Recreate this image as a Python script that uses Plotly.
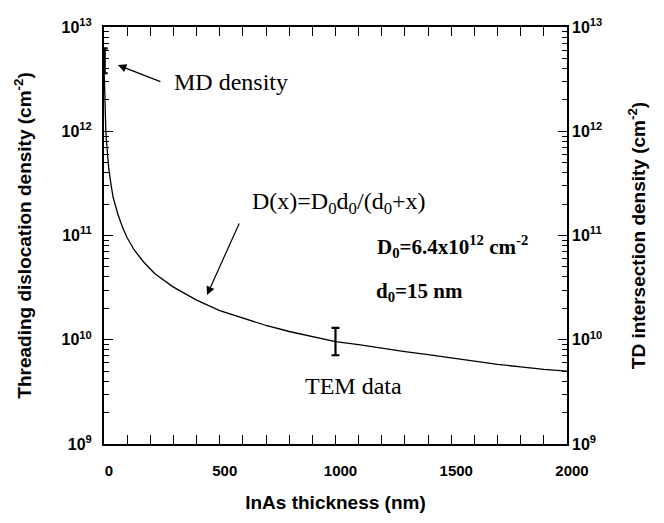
import plotly.graph_objects as go

# ---- data ----
thickness_nm = [1, 2, 4, 6, 8, 10, 15, 20, 30, 40, 60, 80, 100, 130, 170, 220, 300, 400,
                500, 600, 700, 800, 900, 1000, 1100, 1200, 1300, 1400, 1500, 1600, 1700,
                1800, 1900, 2000]
td_density = [3.6e12, 2.7e12, 1.8e12, 1.3e12, 1.0e12, 8.4e11, 5.9e11, 4.5e11, 3.1e11,
              2.3e11, 1.6e11, 1.2e11, 9.5e10, 7.3e10, 5.6e10, 4.3e10, 3.2e10, 2.4e10,
              1.9e10, 1.6e10, 1.37e10, 1.2e10, 1.07e10, 9.6e9, 9.0e9, 8.3e9, 7.7e9,
              7.2e9, 6.7e9, 6.3e9, 5.8e9, 5.5e9, 5.2e9, 5.0e9]

md_x = [3]
md_center = [4.75e12]
md_high = [6.25e12]
md_low = [3.6e12]

tem_x = [1000]
tem_center = [9.6e9]
tem_high = [1.3e10]
tem_low = [7.1e9]

x_ticks = [0, 500, 1000, 1500, 2000]
y_decades = [9, 10, 11, 12, 13]
y_tick_labels = ["10<sup>9</sup>", "10<sup>10</sup>", "10<sup>11</sup>",
                 "10<sup>12</sup>", "10<sup>13</sup>"]
y_minor_mult = [2, 3, 4, 5, 6, 7, 8, 9]

SANS = "Liberation Sans, Arial, sans-serif"
SERIF = "Liberation Serif, Times New Roman, serif"

y_range_log = [y_decades[0], y_decades[-1]]
y_major = [10.0 ** d for d in y_decades]
y_minor = [m * 10.0 ** d for d in y_decades[:-1] for m in y_minor_mult]

fig = go.Figure()

fig.add_trace(go.Scatter(x=thickness_nm, y=td_density, mode="lines",
                         line=dict(color="black", width=1.3), showlegend=False,
                         hoverinfo="skip"))
# invisible copy on the right axis so that it is drawn
fig.add_trace(go.Scatter(x=thickness_nm, y=td_density, mode="lines", yaxis="y2",
                         line=dict(color="rgba(0,0,0,0)", width=0), showlegend=False,
                         hoverinfo="skip"))

fig.add_trace(go.Scatter(
    x=md_x, y=md_center, mode="markers", marker=dict(size=1, color="black"),
    error_y=dict(type="data", symmetric=False,
                 array=[h - c for h, c in zip(md_high, md_center)],
                 arrayminus=[c - l for l, c in zip(md_low, md_center)],
                 color="black", thickness=2.2, width=3),
    showlegend=False, hoverinfo="skip", cliponaxis=False))

fig.add_trace(go.Scatter(
    x=tem_x, y=tem_center, mode="markers", marker=dict(size=1, color="black"),
    error_y=dict(type="data", symmetric=False,
                 array=[h - c for h, c in zip(tem_high, tem_center)],
                 arrayminus=[c - l for l, c in zip(tem_low, tem_center)],
                 color="black", thickness=2.2, width=4),
    showlegend=False, hoverinfo="skip"))

tickfont = dict(family=SANS, size=15, color="black", weight="bold")
ytickfont = dict(family=SANS, size=16, color="black", weight="bold")
yminor = dict(ticks="inside", ticklen=5, tickcolor="black", tickwidth=1,
              tickmode="array", tickvals=y_minor, showgrid=False)

# the page adds an 8px body margin, so the figure is 8px smaller than the window
fig.update_layout(
    width=656, height=515,
    margin=dict(l=96, r=97, t=19, b=79),
    paper_bgcolor="white", plot_bgcolor="white",
    xaxis=dict(
        range=[0, 2000], tickvals=x_ticks, ticks="inside", ticklen=9, tickwidth=1,
        tickcolor="black", showline=True, linecolor="black", linewidth=2,
        mirror="allticks", showgrid=False, zeroline=False, automargin=False,
        minor=dict(ticks="inside", ticklen=5, tickcolor="black", tickwidth=1,
                   dtick=100, showgrid=False),
        tickfont=tickfont, ticklabelstandoff=12, ticklabelshift=5,
        title=dict(text="InAs thickness (nm)", standoff=18,
                   font=dict(family=SANS, size=19, color="black", weight="bold")),
    ),
    yaxis=dict(
        type="log", range=y_range_log, tickmode="array", tickvals=y_major,
        ticktext=y_tick_labels,
        ticks="inside", ticklen=9, tickwidth=1, tickcolor="black",
        showline=True, linecolor="black", linewidth=2, mirror=True,
        showgrid=False, zeroline=False, minor=yminor, automargin=False,
        tickfont=ytickfont, ticklabelstandoff=7,
        title=dict(text="Threading dislocation density (cm<sup>-2</sup>)", standoff=25,
                   font=dict(family=SANS, size=19, color="black", weight="bold")),
    ),
    yaxis2=dict(
        type="log", range=y_range_log, tickmode="array", tickvals=y_major,
        ticktext=y_tick_labels,
        overlaying="y", side="right", anchor="x",
        ticks="inside", ticklen=9, tickwidth=1, tickcolor="black",
        showline=False, showgrid=False, zeroline=False, minor=yminor, automargin=False,
        tickfont=ytickfont, ticklabelstandoff=4,
        title=dict(text="TD intersection density (cm<sup>-2</sup>)", standoff=30,
                   font=dict(family=SANS, size=19, color="black", weight="bold")),
    ),
)

serif_font = dict(family=SERIF, size=24, color="black")
bold_font = dict(family=SERIF, size=21, color="black", weight="bold")

# text labels
fig.add_annotation(x=294, y=12.472, xref="x", yref="y", text="MD density",
                   showarrow=False, xanchor="left", yanchor="middle", font=serif_font)
fig.add_annotation(x=631, y=11.312, xref="x", yref="y",
                   text="D(x)=D<sub>0</sub>d<sub>0</sub>/(d<sub>0</sub>+x)",
                   showarrow=False, xanchor="left", yanchor="middle", font=serif_font)
fig.add_annotation(x=1171, y=10.89, xref="x", yref="y",
                   text="D<sub>0</sub>=6.4x10<sup>12</sup> cm<sup>-2</sup>",
                   showarrow=False, xanchor="left", yanchor="middle", font=bold_font)
fig.add_annotation(x=1166, y=10.46, xref="x", yref="y",
                   text="d<sub>0</sub>=15 nm",
                   showarrow=False, xanchor="left", yanchor="middle", font=bold_font)
fig.add_annotation(x=860, y=9.556, xref="x", yref="y", text="TEM data",
                   showarrow=False, xanchor="left", yanchor="middle", font=serif_font)

# arrows
fig.add_annotation(x=60, y=12.635, xref="x", yref="y", ax=250, ay=12.47,
                   axref="x", ayref="y", text="", showarrow=True, arrowhead=2,
                   arrowsize=1.4, arrowwidth=1.2, arrowcolor="black")
fig.add_annotation(x=445, y=10.43, xref="x", yref="y", ax=587, ay=11.13,
                   axref="x", ayref="y", text="", showarrow=True, arrowhead=2,
                   arrowsize=1.4, arrowwidth=1.2, arrowcolor="black")

fig.write_html("out.html")
